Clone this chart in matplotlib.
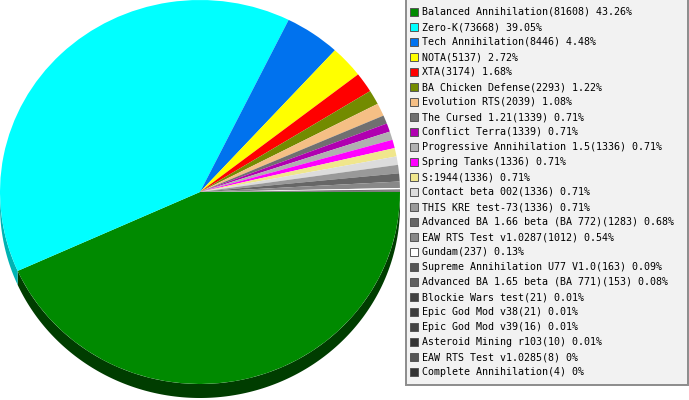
import numpy as np
import matplotlib
matplotlib.use("Agg")
import matplotlib.pyplot as plt
from matplotlib.patches import Rectangle
from matplotlib.colors import to_rgb

names = ["Balanced Annihilation", "Zero-K", "Tech Annihilation", "NOTA", "XTA",
         "BA Chicken Defense", "Evolution RTS", "The Cursed 1.21", "Conflict Terra",
         "Progressive Annihilation 1.5", "Spring Tanks", "S:1944", "Contact beta 002",
         "THIS KRE test-73", "Advanced BA 1.66 beta (BA 772)", "EAW RTS Test v1.0287",
         "Gundam", "Supreme Annihilation U77 V1.0", "Advanced BA 1.65 beta (BA 771)",
         "Blockie Wars test", "Epic God Mod v38", "Epic God Mod v39",
         "Asteroid Mining r103", "EAW RTS Test v1.0285", "Complete Annihilation"]
values = [81608, 73668, 8446, 5137, 3174, 2293, 2039, 1339, 1339, 1336, 1336, 1336,
          1336, 1336, 1283, 1012, 237, 163, 153, 21, 21, 16, 10, 8, 4]
colors = ["#008a00", "#00ffff", "#0072ee", "#ffff00", "#ff0000", "#738b00", "#f5bf85",
          "#707070", "#b000b0", "#b0b0b0", "#ff00ff", "#f0e68c", "#dcdcdc", "#999999",
          "#666666", "#888888", "#ffffff", "#555555", "#5f5f5f", "#404040", "#3c3c3c",
          "#444444", "#333333", "#555555", "#333333"]

total = sum(values)
labels = []
for n, v in zip(names, values):
    p = f"{100 * v / total:.2f}".rstrip("0").rstrip(".")
    labels.append(f"{n}({v}) {p}%")

W, H = 689, 400
fig = plt.figure(figsize=(W / 100, H / 100), dpi=100)

# pie: 400 px wide, 192 px vertical radius, 14 px thick
rx, ry, depth = 200, 192, 14
ax = fig.add_axes([0, 0, 2 * rx / W, 1])
wedges, _ = ax.pie(values, colors=colors, startangle=0, counterclock=False,
                   wedgeprops=dict(linewidth=0))
ax.set_aspect("auto")
ax.set_xlim(-1, 1)
ax.set_ylim(1 - H / ry, 1)
ax.axis("off")

d = depth / ry
for w, c in zip(wedges, colors):
    t = np.radians(np.linspace(w.theta1, w.theta2, 300))
    t = t[np.sin(t) <= 0]
    if len(t) < 2:
        continue
    xs = np.concatenate([np.cos(t), np.cos(t[::-1])])
    ys = np.concatenate([np.sin(t), np.sin(t[::-1]) - d])
    dark = tuple(np.clip(np.array(to_rgb(c)) - 0.3, 0, 1))
    ax.fill(xs, ys, color=dark, lw=0, zorder=0)

# legend box
lax = fig.add_axes([0, 0, 1, 1])
lax.set_xlim(0, W)
lax.set_ylim(H, 0)
lax.axis("off")
lax.add_patch(Rectangle((405.5, -2), 282.5, 386.5, facecolor="#f2f2f2",
                        edgecolor="#8c8c8c", lw=1.4))
for i, (lab, c) in enumerate(zip(labels, colors)):
    y = 12 + 15 * i
    lax.add_patch(Rectangle((410, y - 4), 8, 8, facecolor=c, edgecolor="#555555", lw=0.7))
    lax.text(422, y, lab, va="center", ha="left", fontsize=7.2,
             family="DejaVu Sans Mono", color="black")

fig.savefig("out.png", dpi=100)
